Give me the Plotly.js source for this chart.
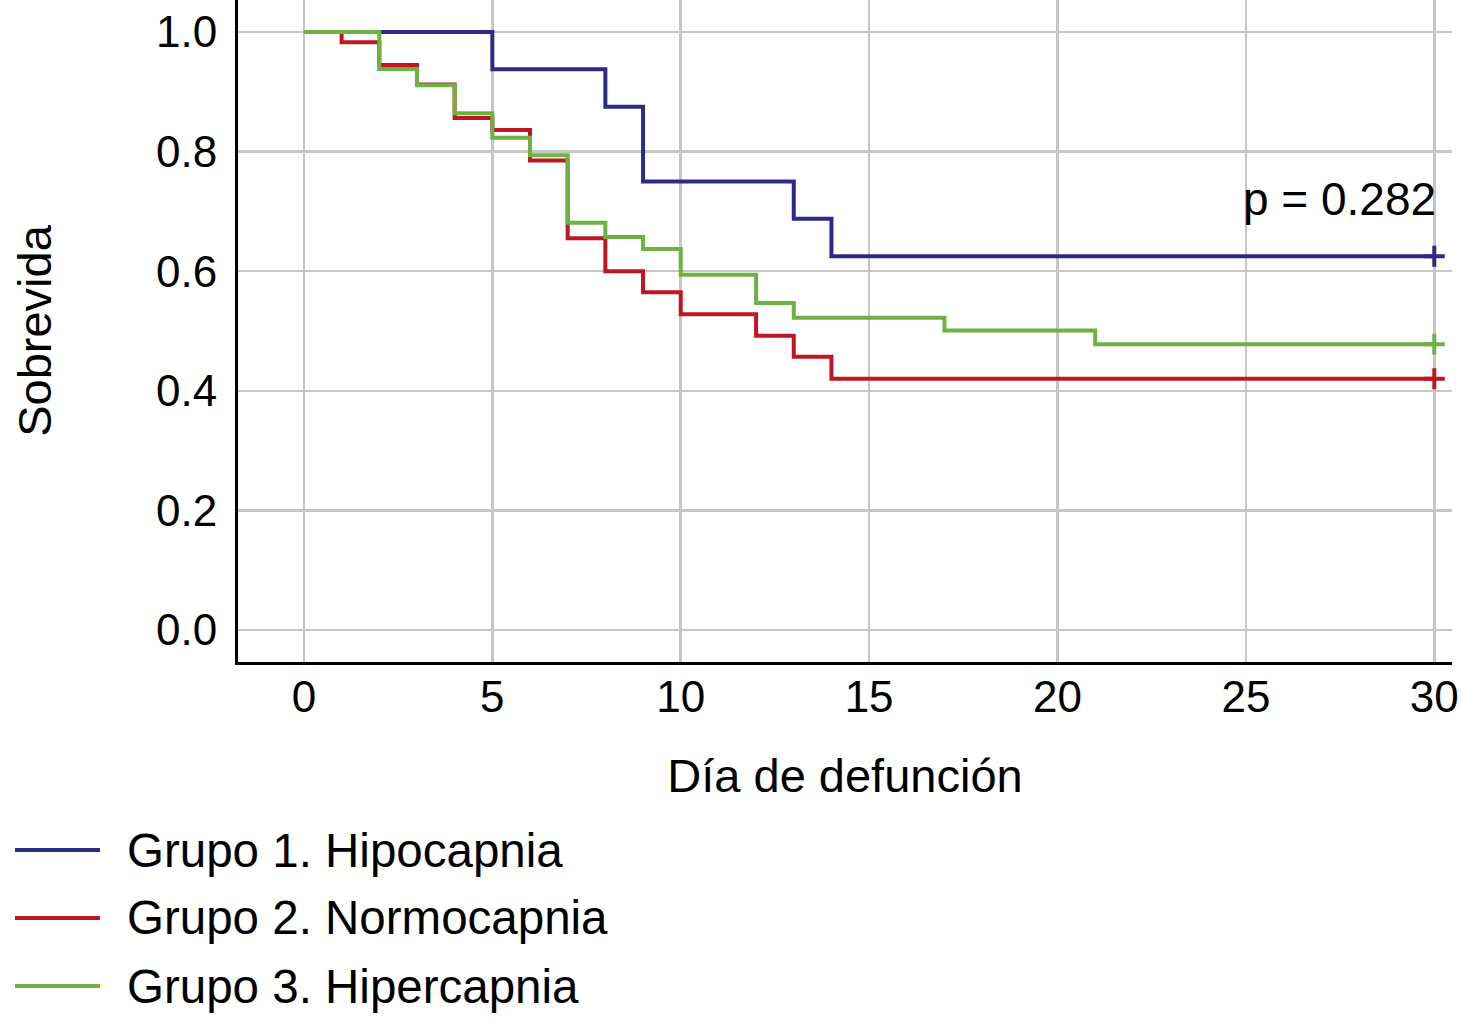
<!DOCTYPE html>
<html>
<head>
<meta charset="utf-8">
<script src="https://cdn.plot.ly/plotly-3.0.1.min.js"></script>
<style>html,body{margin:0;padding:0;background:#fff;}#chart{width:1463px;height:1024px;}</style>
</head>
<body>
<div id="chart"></div>
<script>
// Data (Kaplan-Meier step values)
const groupNames = ["Grupo 1. Hipocapnia", "Grupo 2. Normocapnia", "Grupo 3. Hipercapnia"];
const groupColors = ["#2D2A87", "#BE1622", "#6DB33F"];
const hipoDays = [0, 5, 8, 9, 13, 14, 30];
const hipoSurv = [1.0, 0.9375, 0.875, 0.75, 0.6875, 0.625, 0.625];
const normoDays = [0, 1, 2, 3, 4, 5, 6, 7, 8, 9, 10, 12, 13, 14, 30];
const normoSurv = [1.0, 0.983, 0.945, 0.912, 0.856, 0.836, 0.785, 0.655, 0.600, 0.565, 0.528, 0.492, 0.457, 0.420, 0.420];
const hiperDays = [0, 2, 3, 4, 5, 6, 7, 8, 9, 10, 12, 13, 17, 21, 30];
const hiperSurv = [1.0, 0.938, 0.911, 0.864, 0.823, 0.794, 0.681, 0.657, 0.637, 0.594, 0.547, 0.522, 0.501, 0.478, 0.478];
const xTicks = [0, 5, 10, 15, 20, 25, 30];
const yTicks = [0.0, 0.2, 0.4, 0.6, 0.8, 1.0];
const pText = "p = 0.282";
const xTitle = "Día de defunción";
const yTitle = "Sobrevida";

const series = [[hipoDays, hipoSurv], [normoDays, normoSurv], [hiperDays, hiperSurv]];
const FONT = "Liberation Sans, Arial, Helvetica, sans-serif";

const traces = [];
series.forEach(([d, s], i) => {
  traces.push({
    x: d, y: s, type: "scatter", mode: "lines", name: groupNames[i],
    line: {shape: "hv", color: groupColors[i], width: 4}, showlegend: false, hoverinfo: "skip"
  });
});
series.forEach(([d, s], i) => {
  const n = d.length - 1;
  traces.push({
    x: [d[n]], y: [s[n]], type: "scatter", mode: "markers", showlegend: false, hoverinfo: "skip",
    marker: {symbol: "cross-thin", size: 15, color: groupColors[i], line: {color: groupColors[i], width: 4}}
  });
});

// plot area geometry in paper px for legend placement
const W = 1463, H = 1024, L = 238, R = 11, T = 0, B = 362;
const pw = W - L - R, ph = H - T - B;
const legY = [850, 918, 986];
const shapes = [], annotations = [];
groupNames.forEach((g, i) => {
  const yp = (H - B - legY[i]) / ph;
  shapes.push({type: "line", xref: "paper", yref: "paper",
    x0: (15 - L) / pw, x1: (100 - L) / pw, y0: yp, y1: yp,
    line: {color: groupColors[i], width: 4}});
  annotations.push({xref: "paper", yref: "paper", x: (125 - L) / pw, y: yp,
    xanchor: "left", yanchor: "middle", text: g, showarrow: false,
    font: {family: FONT, size: 47.5, color: "#000"}});
});
annotations.push({xref: "x", yref: "y", x: 30, y: 0.72, xanchor: "right", yanchor: "middle", xshift: 4,
  text: pText, showarrow: false, font: {family: FONT, size: 46, color: "#000"}});

const layout = {
  width: W, height: H,
  margin: {l: L, r: R, t: T, b: B, pad: 0},
  paper_bgcolor: "#fff", plot_bgcolor: "#fff",
  font: {family: FONT, color: "#000"},
  showlegend: false,
  xaxis: {
    range: [-1.75, 30.47], tickvals: xTicks, ticktext: xTicks.map(String),
    showgrid: true, gridcolor: "#c6c6c6", gridwidth: 2.5, zeroline: false,
    showline: true, linecolor: "#000", linewidth: 3,
    ticks: "", ticklabelstandoff: -6,
    tickfont: {family: FONT, size: 44, color: "#000"},
    title: {text: xTitle, font: {family: FONT, size: 47, color: "#000"}, standoff: 40},
    automargin: false, fixedrange: true
  },
  yaxis: {
    range: [-0.0535, 1.0535], tickvals: yTicks, ticktext: yTicks.map(v => v.toFixed(1)),
    showgrid: true, gridcolor: "#c6c6c6", gridwidth: 2.5, zeroline: false,
    showline: true, linecolor: "#000", linewidth: 3,
    ticks: "outside", ticklen: 9, tickcolor: "rgba(0,0,0,0)",
    tickfont: {family: FONT, size: 44, color: "#000"},
    title: {text: yTitle, font: {family: FONT, size: 47, color: "#000"}, standoff: 90},
    automargin: false, fixedrange: true
  },
  shapes: shapes,
  annotations: annotations
};

Plotly.newPlot("chart", traces, layout, {displayModeBar: false, staticPlot: true});
</script>
</body>
</html>
